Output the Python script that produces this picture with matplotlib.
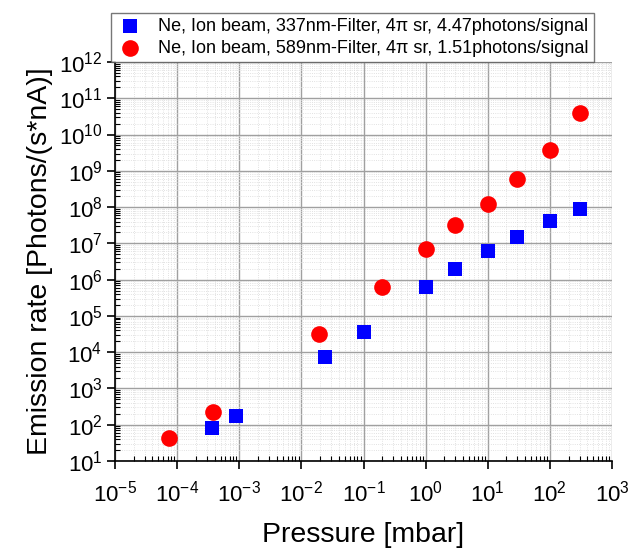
import numpy as np
import matplotlib
matplotlib.use("Agg")
import matplotlib.pyplot as plt
from matplotlib.ticker import LogLocator, NullFormatter, LogFormatterSciNotation

plt.rcParams['font.family'] = ['Liberation Sans', 'DejaVu Sans']
plt.rcParams['mathtext.fontset'] = 'custom'
plt.rcParams['mathtext.rm'] = 'Liberation Sans'
plt.rcParams['mathtext.it'] = 'Liberation Sans:italic'

# 337nm filter data
p_337 = [3.6e-4, 9e-4, 0.024, 0.1, 1, 3, 10, 30, 100, 300]
rate_337 = [81, 174, 7.4e3, 3.6e4, 6.2e5, 1.95e6, 6.1e6, 1.5e7, 4.1e7, 8.7e7]
# 589nm filter data
p_589 = [7.4e-5, 3.8e-4, 0.019, 0.2, 1, 3, 10, 30, 100, 300]
rate_589 = [43, 224, 3.2e4, 6.2e5, 6.9e6, 3.2e7, 1.2e8, 5.9e8, 3.7e9, 3.9e10]

x_decades = np.arange(-5, 4)
y_decades = np.arange(1, 13)

label_337 = 'Ne, Ion beam, 337nm-Filter, 4\u03c0 sr, 4.47photons/signal'
label_589 = 'Ne, Ion beam, 589nm-Filter, 4\u03c0 sr, 1.51photons/signal'

fig = plt.figure(figsize=(6.43, 5.48), dpi=100)
ax = fig.add_axes([115/643, 1 - 461/548, 497/643, 399/548])

ax.set_xscale('log')
ax.set_yscale('log')

ax.scatter(p_337, rate_337, marker='s', s=10.5**2, color='#0000ff', linewidths=0,
           label=label_337, zorder=3)
ax.scatter(p_589, rate_589, marker='o', s=12**2, color='#ff0000', linewidths=0,
           label=label_589, zorder=3)

ax.set_xticks(10.0 ** x_decades)
ax.set_yticks(10.0 ** y_decades)
ax.xaxis.set_major_formatter(LogFormatterSciNotation())
ax.yaxis.set_major_formatter(LogFormatterSciNotation())
ax.xaxis.set_minor_locator(LogLocator(base=10, subs=np.arange(2, 10), numticks=20))
ax.yaxis.set_minor_locator(LogLocator(base=10, subs=np.arange(2, 10), numticks=20))
ax.xaxis.set_minor_formatter(NullFormatter())
ax.yaxis.set_minor_formatter(NullFormatter())
ax.set_xlim(10.0 ** x_decades[0], 10.0 ** x_decades[-1])
ax.set_ylim(10.0 ** y_decades[0], 10.0 ** y_decades[-1])

ax.grid(which='major', color='#a0a0a0', linewidth=1.0)
ax.grid(which='minor', color='#d8d8d8', linewidth=0.6, linestyle=':')
ax.set_axisbelow(True)

for side in ['top', 'right']:
    ax.spines[side].set_visible(False)
for side in ['left', 'bottom']:
    ax.spines[side].set_linewidth(1.2)

ax.tick_params(which='major', direction='out', length=6, width=1.2,
               labelsize=16)
ax.tick_params(axis='x', which='major', pad=8)
ax.tick_params(axis='y', which='major', pad=3)
ax.tick_params(which='minor', direction='in', length=3.5, width=0.8)

ax.set_xlabel('Pressure [mbar]', fontsize=20.5, labelpad=11)
ax.set_ylabel('Emission rate [Photons/(s*nA)]', fontsize=20.5, labelpad=4)

leg = fig.legend(loc='lower left', bbox_to_anchor=(111/643, 1 - 62/548),
                 fontsize=13.0, frameon=True, fancybox=False, borderaxespad=0,
                 handletextpad=0.8, borderpad=0.3, labelspacing=0.25,
                 handlelength=1.5, markerscale=1.0)
leg.get_frame().set_edgecolor('#555555')
leg.get_frame().set_linewidth(1.0)

fig.savefig('out.png', dpi=100)
